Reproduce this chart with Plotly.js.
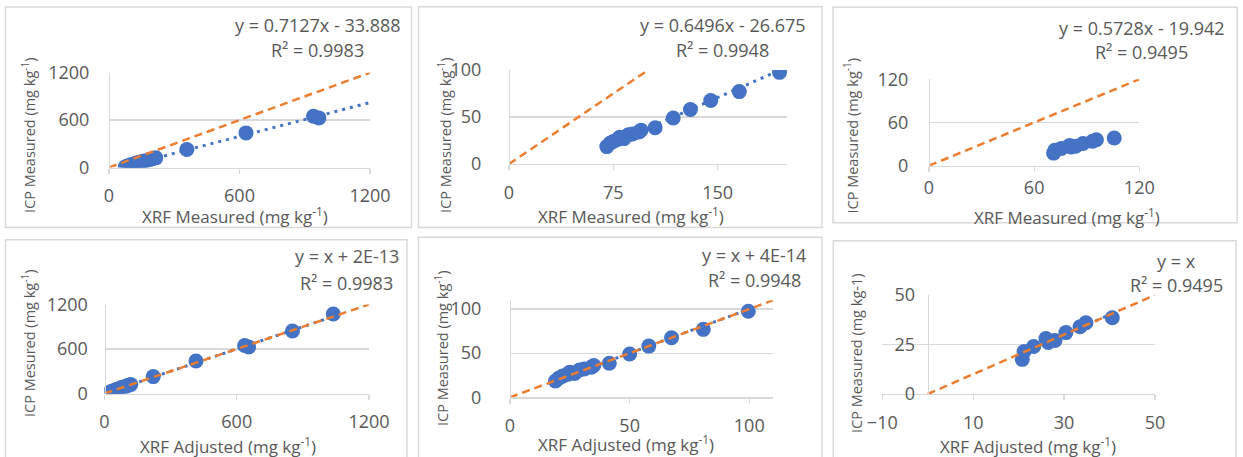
<!DOCTYPE html>
<html>
<head>
<meta charset="utf-8">
<script src="https://cdn.plot.ly/plotly-3.0.1.min.js"></script>
<style>html,body{margin:0;padding:0;background:#fff;}#chart{width:1243px;height:457px;}</style>
</head>
<body>
<div id="chart"></div>
<script>
// ---------- DATA ----------
// Panel 1 / 4 (high-range element)
const p1XrfMeasured = [75, 88, 100, 112, 125, 140, 155, 170, 185, 200, 215, 358, 630, 940, 965, 1244, 1504];
const p1Icp         = [10, 22, 35, 42, 58, 65, 80, 85, 100, 112, 122, 228, 438, 648, 628, 843, 1072];
const p4XrfAdjusted = [19.6, 28.8, 37.4, 45.9, 55.2, 65.9, 76.6, 87.3, 98.0, 108.7, 119.3, 221.3, 415.1, 636.1, 653.9, 852.7, 1038.0];
// Panel 2 / 5
const p2XrfMeasured = [70.3, 72.6, 74.9, 78.0, 79.5, 82.6, 85.7, 88.8, 93.4, 94.9, 105.0, 118.0, 130.4, 145.0, 165.5, 194.4];
const p2Icp         = [18.5, 22, 24, 26, 28.5, 27, 31, 32, 34, 36, 38.5, 49, 58, 67.5, 77, 97.5];
const p5XrfAdjusted = [19, 20.5, 22, 24, 25, 27, 29, 31, 34, 35, 41.5, 50, 58, 67.5, 80.8, 99.6];
// Panel 3 / 6
const p3XrfMeasured = [71.1, 71.8, 75.5, 80.2, 81.1, 83.7, 87.9, 93.3, 95.5, 105.7];
const p3Icp         = [17.5, 21.5, 24, 28, 26, 27, 31, 34, 36, 38.5];
const p6XrfAdjusted = [20.8, 21.2, 23.3, 26, 26.5, 28, 30.4, 33.5, 34.8, 40.6];

const trendSlopes     = [0.7127, 0.6496, 0.5728, 1, 1, 1];
const trendIntercepts = [-33.888, -26.675, -19.942, 2e-13, 4e-14, 0];
const eqLabels = ["y = 0.7127x - 33.888", "y = 0.6496x - 26.675", "y = 0.5728x - 19.942",
                  "y = x + 2E-13", "y = x + 4E-14", "y = x"];
const r2Labels = ["R² = 0.9983", "R² = 0.9948", "R² = 0.9495", "R² = 0.9983", "R² = 0.9948", "R² = 0.9495"];
const xTitles = ["XRF Measured (mg kg<sup>-1</sup>)", "XRF Measured (mg kg<sup>-1</sup>)", "XRF Measured (mg kg<sup>-1</sup>)",
                 "XRF Adjusted (mg kg<sup>-1</sup>)", "XRF Adjusted (mg kg<sup>-1</sup>)", "XRF Adjusted (mg kg<sup>-1</sup>)"];
const yTitles = ["ICP Measured (mg kg<sup>-1</sup>)", "ICP Measured (mg kg<sup>-1</sup>)", "ICP Measured (mg kg<sup>-1</sup>)",
                 "ICP Mesured (mg kg<sup>-1</sup>)", "ICP Measured (mg kg<sup>-1</sup>)", "ICP Measured (mg kg-1)"];
const xRanges = [[0, 1200], [0, 200], [0, 120], [0, 1200], [0, 110], [-10, 50]];
const yRanges = [[0, 1200], [0, 100], [0, 120], [0, 1200], [0, 110], [0, 50]];
const xTick0 = [0, 0, 0, 0, 0, -10];
const xDtick = [600, 75, 60, 600, 50, 20];
const yDtick = [600, 50, 60, 600, 50, 25];

const seriesX = [p1XrfMeasured, p2XrfMeasured, p3XrfMeasured, p4XrfAdjusted, p5XrfAdjusted, p6XrfAdjusted];
const seriesY = [p1Icp, p2Icp, p3Icp, p1Icp, p2Icp, p3Icp];

// ---------- LAYOUT (pixels) ----------
const W = 1243, H = 457;
const plotBox = [ // [left, right, top, bottom] in px
  [109, 370, 72.7, 167.5],
  [509, 787.3, 70, 164],
  [929, 1139.3, 79.3, 165.7],
  [104.5, 369, 304.5, 393.5],
  [510, 773.2, 300.2, 397.3],
  [882.3, 1155, 295, 394]
];
const frameBox = [
  [5.5, 411.5, 7, 227.5],
  [418.5, 822, 6.7, 227.5],
  [833, 1237, 7.3, 222.7],
  [5.5, 407, 239.7, 470],
  [418.5, 822, 237.3, 470],
  [833.3, 1236, 240.7, 470]
];
const eqPos = [[317.5, 25, 50], [722.5, 25, 50], [1141.7, 28.3, 52.3], [346.5, 256.3, 283], [754, 254.7, 279.7], [1176, 261.3, 284.7]];
const xTitlePos = [[235, 215], [631, 215], [1067, 216.5], [228, 445], [626, 443], [1027.5, 445]];
const yTitlePos = [[28, 135], [444, 135], [851, 135.5], [28, 343], [441, 348], [856, 353]];
const yLabelStandoff = [16, 24, 17, 13, 25, 9];
const xLabelStandoff = [7, 7, 0, 7, 7, 7];

const fx = p => p / W, fy = p => 1 - p / H;
const grey = '#595959', gridC = '#D9D9D9', blue = '#4472C4', orange = '#ED7D31';
const FONT = 'Open Sans, Liberation Sans, sans-serif';

const traces = [];
const layout = {
  width: W, height: H, margin: {l: 0, r: 0, t: 0, b: 0},
  paper_bgcolor: '#fff', plot_bgcolor: 'rgba(0,0,0,0)',
  showlegend: false, font: {family: FONT, color: grey, size: 18},
  shapes: [], annotations: []
};

for (let i = 0; i < 6; i++) {
  const n = i + 1, xa = 'x' + (n === 1 ? '' : n), ya = 'y' + (n === 1 ? '' : n);
  const xs = seriesX[i], ys = seriesY[i];
  // scatter points
  traces.push({x: xs, y: ys, xaxis: xa, yaxis: ya, mode: 'markers', type: 'scatter',
               marker: {color: blue, size: 15}, hoverinfo: 'x+y'});
  // linear trendline
  const xmin = Math.min(...xs), xmax = Math.max(...xs);
  traces.push({x: [xmin, xmax], y: [trendSlopes[i] * xmin + trendIntercepts[i], trendSlopes[i] * xmax + trendIntercepts[i]],
               xaxis: xa, yaxis: ya, mode: 'lines', type: 'scatter',
               line: {color: blue, width: 3, dash: '3px,5px'}, hoverinfo: 'skip'});
  // 1:1 line
  const e = Math.min(xRanges[i][1], yRanges[i][1]);
  traces.push({x: [0, e], y: [0, e], xaxis: xa, yaxis: ya, mode: 'lines', type: 'scatter',
               line: {color: orange, width: 2.5, dash: '8px,5px'}, hoverinfo: 'skip'});

  const b = plotBox[i];
  const xDom = [fx(b[0]), fx(b[1])];
  const yDom = [fy(b[3]), fy(b[2])];
  const xr = xRanges[i];
  const yPosFrac = xDom[0] + (0 - xr[0]) / (xr[1] - xr[0]) * (xDom[1] - xDom[0]);
  layout['xaxis' + (n === 1 ? '' : n)] = {
    domain: xDom, range: xr, anchor: ya, tick0: xTick0[i], dtick: xDtick[i],
    showgrid: false, zeroline: false, showline: true, linecolor: gridC, linewidth: 1.3,
    ticks: 'outside', ticklen: 5, tickcolor: gridC, tickwidth: 1.3,
    tickfont: {size: 18, color: grey, family: FONT}, ticklabelstandoff: xLabelStandoff[i],
    fixedrange: true
  };
  layout['yaxis' + (n === 1 ? '' : n)] = {
    domain: yDom, range: yRanges[i], anchor: 'free', position: yPosFrac, dtick: yDtick[i],
    showgrid: true, gridcolor: gridC, gridwidth: 1.3, zeroline: false,
    showline: true, linecolor: gridC, linewidth: 1.3, ticks: '',
    tickfont: {size: 18, color: grey, family: FONT}, ticklabelstandoff: yLabelStandoff[i],
    fixedrange: true
  };
  const fb = frameBox[i];
  layout.shapes.push({type: 'rect', xref: 'paper', yref: 'paper', x0: fx(fb[0]), x1: fx(fb[1]), y0: fy(fb[3]), y1: fy(fb[2]),
                      line: {color: gridC, width: 1.5}, fillcolor: 'rgba(0,0,0,0)'});
  const ep = eqPos[i];
  layout.annotations.push({xref: 'paper', yref: 'paper', x: fx(ep[0]), y: fy(ep[1]), text: eqLabels[i], showarrow: false,
                           xanchor: 'center', yanchor: 'middle', font: {size: 18, color: grey, family: FONT}});
  layout.annotations.push({xref: 'paper', yref: 'paper', x: fx(ep[0]), y: fy(ep[2]), text: r2Labels[i], showarrow: false,
                           xanchor: 'center', yanchor: 'middle', font: {size: 18, color: grey, family: FONT}});
  const xp = xTitlePos[i];
  layout.annotations.push({xref: 'paper', yref: 'paper', x: fx(xp[0]), y: fy(xp[1]), text: xTitles[i], showarrow: false,
                           xanchor: 'center', yanchor: 'middle', font: {size: 17, color: grey, family: FONT}});
  const yp = yTitlePos[i];
  layout.annotations.push({xref: 'paper', yref: 'paper', x: fx(yp[0]), y: fy(yp[1]), text: yTitles[i], showarrow: false,
                           textangle: -90, xanchor: 'center', yanchor: 'middle', font: {size: 14.5, color: grey, family: FONT}});
}

Plotly.newPlot('chart', traces, layout, {displayModeBar: false, staticPlot: true});
</script>
</body>
</html>
